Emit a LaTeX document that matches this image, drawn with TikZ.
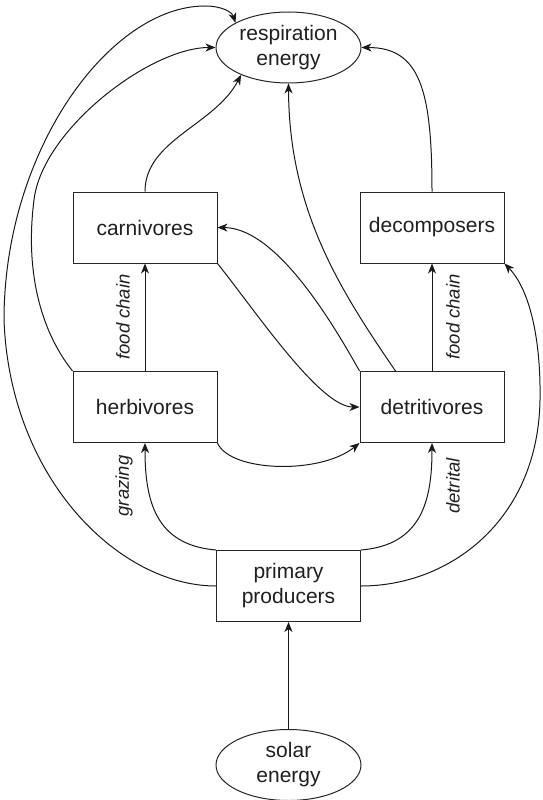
\documentclass[tikz,border=0pt]{standalone}
\usepackage{fontspec}
\setmainfont{Liberation Sans}
\usetikzlibrary{arrows.meta,shapes.geometric,calc}
\begin{document}
\begin{tikzpicture}[x=1pt,y=-1pt,
  every node/.style={text=black!88},
  boxnode/.style={draw=black!85,line width=1pt,rectangle,minimum width=144pt,minimum height=71pt,inner sep=0pt,align=center,font=\fontsize{21}{25}\selectfont},
  ovalnode/.style={draw=black!85,line width=1pt,ellipse,minimum width=145pt,minimum height=71pt,inner sep=0pt,align=center,font=\fontsize{21}{25}\selectfont},
  flow/.style={draw=black!90,line width=1pt,-{Stealth[length=10pt,width=8pt,inset=3pt]}},
  flowlabel/.style={rotate=90,inner sep=0pt,font=\fontsize{18.5}{22}\selectfont\itshape}]
\useasboundingbox (0,0) rectangle (542,800);

\node[ovalnode] (resp) at (288.5,47.5) {respiration\\energy};
\node[boxnode] (carn) at (145,227.5) {carnivores};
\node[boxnode] (decomp) at (432,227.5) {decomposers};
\node[boxnode] (herb) at (145,407) {herbivores};
\node[boxnode] (detr) at (432,407) {detritivores};
\node[boxnode] (prim) at (288.5,586) {primary\\producers};
\node[ovalnode] (solar) at (288.5,765) {solar\\energy};

\coordinate (detrtop) at ([xshift=36pt]detr.north west);
\coordinate (outerleft) at (4,320);
\coordinate (outertop) at (205,6);
\coordinate (innerleft) at (34,200);
\coordinate (outerright) at (540,400);

% solar -> primary
\draw[flow] (solar.north) -- (prim.south);
% grazing and detrital
\draw[flow] (prim.north west) .. controls (155,545) and (145,500) .. (herb.south);
\draw[flow] (prim.north east) .. controls (422,545) and (432,500) .. (detr.south);
% food chains
\draw[flow] (herb.north) -- (carn.south);
\draw[flow] (detr.north) -- (decomp.south);
% herbivores -> detritivores
\draw[flow] (herb.south east) .. controls (230,472) and (320,475) .. (detr.south west);
% carnivores -> detritivores
\draw[flow] (carn.south east) .. controls (257,313) and (320,407) .. (detr.west);
% detritivores -> carnivores
\draw[flow] (detr.north west) .. controls (320,300) and (270,228) .. (carn.east);
% detritivores -> respiration
\draw[flow] (detrtop) .. controls (340,290) and (289,210) .. (resp.south);
% carnivores -> respiration
\draw[flow] (carn.north) .. controls (145,140) and (215,125) .. (resp.210);
% decomposers -> respiration
\draw[flow] (decomp.north) .. controls (432,90) and (420,47.5) .. (resp.east);
% herbivores -> respiration
\draw[flow] (herb.north west) .. controls (40,330) and (25,270) .. (innerleft)
  .. controls (42,130) and (150,47.5) .. (resp.west);
% primary -> respiration (outer)
\draw[flow] (prim.west) .. controls (120,586) and (10,480) .. (outerleft)
  .. controls (4,150) and (110,6) .. (outertop)
  .. controls (222,6) and (232,12) .. (resp.155);
% primary -> decomposers (outer right)
\draw[flow] (prim.east) .. controls (450,586) and (538,520) .. (outerright)
  .. controls (541,340) and (530,290) .. (decomp.south east);

% labels
\node[flowlabel] (fcl) at (123,317) {food chain};
\node[flowlabel] (fcr) at (453,317) {food chain};
\node[flowlabel] (graz) at (124,486) {grazing};
\node[flowlabel] (detl) at (453,486) {detrital};
\end{tikzpicture}
\end{document}
